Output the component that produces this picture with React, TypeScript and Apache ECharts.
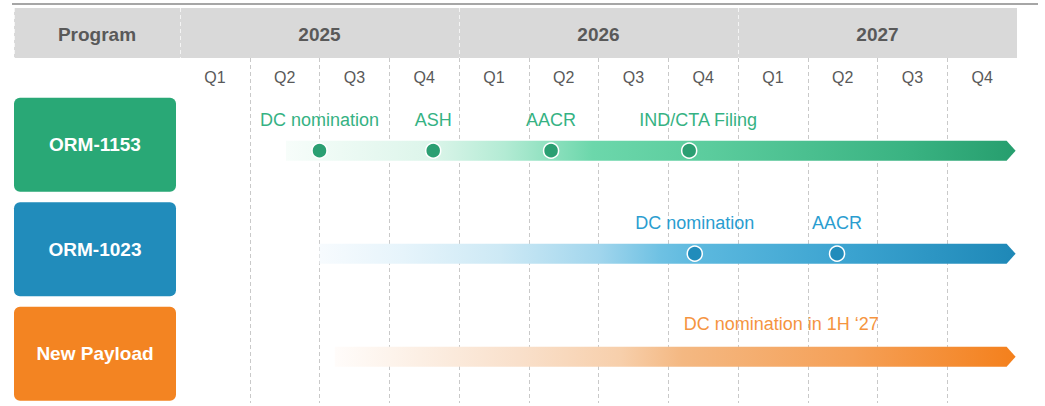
import React, { useEffect, useRef } from "react";
import * as echarts from "echarts";

// ---- data ----
const years = ["2025", "2026", "2027"];
const quarters = ["Q1", "Q2", "Q3", "Q4", "Q1", "Q2", "Q3", "Q4", "Q1", "Q2", "Q3", "Q4"];
const programs = ["ORM-1153", "ORM-1023", "New Payload"];
// timeline spans, in quarters counted from the start of 2025
const spanStart = [1.52, 2.0, 2.22];
const spanEnd = [11.98, 11.98, 11.98];
const orm1153Names = ["DC nomination", "ASH", "AACR", "IND/CTA Filing"];
const orm1153Pos = [2.0, 3.63, 5.32, 7.3];
const orm1023Names = ["DC nomination", "AACR"];
const orm1023Pos = [7.38, 9.42];
const payloadNotes = ["DC nomination in 1H \u201827"];
const payloadNotePos = [8.62];

// ---- styles ----
const FONT = "'Liberation Sans', Arial, Helvetica, sans-serif";
const GREY_TEXT = "#595959";
const boxColors = ["#29a876", "#218cbb", "#f38422"];
const labelColors = ["#35b283", "#2a9dd0", "#f59440"];
const dotColors = ["#2b9f72", "#218cbb", "#f38422"];
const labelShift: Record<string, number> = { "IND/CTA Filing": 9 };
const gradientStops = [
  [
    [0, "#f7fdfa"],
    [0.2, "#dcf5ea"],
    [0.3, "#b3ebd4"],
    [0.42, "#6cd7ab"],
    [0.58, "#5bcc9d"],
    [0.85, "#3ab382"],
    [1, "#269e6e"],
  ],
  [
    [0, "#f7fbfe"],
    [0.12, "#e6f4fb"],
    [0.26, "#cde9f5"],
    [0.4, "#a2d6ed"],
    [0.49, "#6ec1e3"],
    [0.55, "#5bb8de"],
    [0.76, "#3ba3d0"],
    [1, "#1e88b7"],
  ],
  [
    [0, "#fffcfa"],
    [0.125, "#fcefe4"],
    [0.27, "#f9e0cb"],
    [0.42, "#f7cfab"],
    [0.51, "#f4b882"],
    [0.76, "#f5a057"],
    [1, "#f4801c"],
  ],
];

function milestoneSeries(names: string[], pos: number[], row: number, showDot: boolean, dist: number) {
  return {
    type: "scatter",
    xAxisIndex: 0,
    yAxisIndex: 0,
    z: 5,
    symbolSize: 15,
    itemStyle: showDot
      ? { color: dotColors[row], borderColor: "#ffffff", borderWidth: 1.5, opacity: 1 }
      : { color: "rgba(255,255,255,0)", borderWidth: 0, opacity: 1 },
    label: {
      show: true,
      position: "top",
      distance: dist,
      formatter: "{b}",
      color: labelColors[row],
      fontSize: 18,
      fontFamily: FONT,
      opacity: 1,
    },
    emphasis: { disabled: true },
    data: names.map((n, i) => ({
      name: n,
      value: [pos[i], row],
      label: labelShift[n] ? { offset: [labelShift[n], 0] } : undefined,
    })),
  };
}

export default function App() {
  const ref = useRef<HTMLDivElement>(null);
  useEffect(() => {
    if (!ref.current) return;
    const chart = echarts.init(ref.current, undefined, { renderer: "svg" });
    const option: any = {
      animation: false,
      textStyle: { fontFamily: FONT },
      grid: [
        { left: 180, top: 58, width: 837, height: 345 },
        { left: 180, top: 8, width: 837, height: 50, show: true, backgroundColor: "#d9d9d9", borderWidth: 0 },
        { left: 14, top: 92.5, width: 162, height: 314 },
      ],
      xAxis: [
        {
          type: "value",
          gridIndex: 0,
          min: 0,
          max: 12,
          interval: 1,
          position: "bottom",
          axisLine: { show: false },
          axisTick: { show: false },
          axisLabel: { show: false },
          splitLine: {
            show: true,
            showMinLine: false,
            showMaxLine: false,
            lineStyle: { type: [4, 3], color: "#c9c9c9", width: 1 },
          },
        },
        {
          type: "category",
          gridIndex: 0,
          data: quarters,
          position: "top",
          boundaryGap: true,
          axisLine: { show: false },
          axisTick: { show: false },
          splitLine: { show: false },
          axisLabel: {
            inside: true,
            margin: 19,
            verticalAlign: "middle",
            fontSize: 16,
            color: GREY_TEXT,
            interval: 0,
          },
        },
        {
          type: "category",
          gridIndex: 1,
          data: years,
          position: "bottom",
          axisLine: { show: false },
          axisTick: { show: false },
          splitLine: {
            show: true,
            showMaxLine: false,
            lineStyle: { type: [4, 3], color: "#f4f4f4", width: 1 },
          },
          axisLabel: {
            inside: true,
            margin: 24,
            verticalAlign: "middle",
            fontSize: 19,
            fontWeight: "bold",
            color: GREY_TEXT,
          },
        },
        { type: "value", gridIndex: 2, min: 0, max: 1, show: false },
      ],
      yAxis: [
        { type: "value", gridIndex: 0, min: -0.9, max: 2.45, inverse: true, show: false },
        { type: "value", gridIndex: 1, show: false },
        { type: "category", gridIndex: 2, data: programs, inverse: true, show: false },
      ],
      graphic: [
        {
          type: "line",
          shape: { x1: 12, y1: 4, x2: 1038, y2: 4 },
          style: { stroke: "#a6a6a6", lineWidth: 2 },
        },
        {
          type: "rect",
          shape: { x: 14, y: 8, width: 166, height: 50 },
          style: { fill: "#d9d9d9" },
        },
        {
          type: "line",
          shape: { x1: 14.5, y1: 8, x2: 14.5, y2: 58 },
          style: { stroke: "#f4f4f4", lineWidth: 1, lineDash: [4, 3] },
        },
        {
          type: "text",
          x: 97,
          y: 34,
          style: {
            text: "Program",
            fill: GREY_TEXT,
            font: `bold 19px ${FONT}`,
            align: "center",
            verticalAlign: "middle",
          },
        },
      ],
      series: [
        {
          type: "custom",
          xAxisIndex: 0,
          yAxisIndex: 0,
          z: 3,
          clip: false,
          encode: { x: [0, 1], y: 2 },
          data: programs.map((p, i) => [spanStart[i], spanEnd[i], i]),
          renderItem: (params: any, api: any) => {
            const row = api.value(2);
            const s = api.coord([api.value(0), row]);
            const e = api.coord([api.value(1), row]);
            const h = 20;
            const head = 9;
            const stops = gradientStops[params.dataIndex].map(([o, c]) => ({ offset: o as number, color: c as string }));
            return {
              type: "polygon",
              shape: {
                points: [
                  [s[0], s[1] - h / 2],
                  [e[0] - head, s[1] - h / 2],
                  [e[0], s[1]],
                  [e[0] - head, s[1] + h / 2],
                  [s[0], s[1] + h / 2],
                ],
              },
              style: { fill: new echarts.graphic.LinearGradient(0, 0, 1, 0, stops) },
            };
          },
        },
        milestoneSeries(orm1153Names, orm1153Pos, 0, true, 13),
        milestoneSeries(orm1023Names, orm1023Pos, 1, true, 13),
        milestoneSeries(payloadNotes, payloadNotePos, 2, false, 16),
        {
          type: "bar",
          xAxisIndex: 3,
          yAxisIndex: 2,
          barWidth: 94,
          itemStyle: { borderRadius: 6 },
          label: {
            show: true,
            position: "inside",
            formatter: "{b}",
            color: "#ffffff",
            fontSize: 19,
            fontWeight: "bold",
            fontFamily: FONT,
          },
          emphasis: { disabled: true },
          data: programs.map((p, i) => ({ value: 1, itemStyle: { color: boxColors[i] } })),
        },
      ],
    };
    chart.setOption(option);
    return () => chart.dispose();
  }, []);
  return (
    <div
      ref={ref}
      style={{ position: "absolute", left: 0, top: 0, width: 1045, height: 406, background: "#ffffff" }}
    />
  );
}
